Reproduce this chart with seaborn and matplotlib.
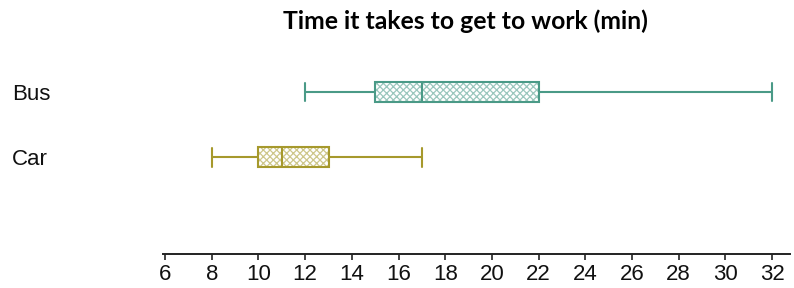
import numpy as np
import pandas as pd
import matplotlib
matplotlib.use("Agg")
import matplotlib.pyplot as plt
import matplotlib.colors as mcolors
import seaborn as sns

# ---- data ----
modes = ["Bus", "Car"]
bus_times = [12, 15, 17, 22, 32]
car_times = [8, 10, 11, 13, 17]
colors = ["#4a9a87", "#a6992c"]
x_ticks = list(range(6, 33, 2))
title = "Time it takes to get to work (min)"

df = pd.DataFrame({
    "mode": ["Bus"] * len(bus_times) + ["Car"] * len(car_times),
    "minutes": bus_times + car_times,
})

sns.set_style("white")
plt.rcParams["font.family"] = ["Liberation Sans", "DejaVu Sans"]
plt.rcParams["hatch.linewidth"] = 0.9

W, H = 794, 288
fig = plt.figure(figsize=(W / 100, H / 100), dpi=100)
left_px, right_px, top_px, bot_px = 163, 790, 50, 254
ax = fig.add_axes([left_px / W, (H - bot_px) / H,
                   (right_px - left_px) / W, (bot_px - top_px) / H])

sns.boxplot(data=df, x="minutes", y="mode", hue="mode", order=modes,
            hue_order=modes, palette=colors, dodge=False, width=0.31,
            whis=np.inf, linewidth=1.5, capwidths=0.29, legend=False, ax=ax)

def lighten(c, f):
    r, g, b = mcolors.to_rgb(c)
    return (r + (1 - r) * f, g + (1 - g) * f, b + (1 - b) * f, 1.0)

for cont, col in zip(ax.containers, colors):
    for b in cont.boxes:
        b.set_facecolor("white")
        b.set_edgecolor(col)
        b.set_hatch("xxxxx")
        b.set_linewidth(1.5)
        b._hatch_color = lighten(col, 0.45)
    for group in (cont.whiskers, cont.caps, cont.medians):
        for ln in group:
            ln.set_color(col)
            ln.set_linewidth(1.5)

ax.set_xlim(5.91, 32.77)
ax.set_ylim(2.49, -0.646)
ax.set_xticks(x_ticks)
ax.set_xticklabels([str(t) for t in x_ticks], fontsize=16, color="#111111")
ax.set_xlabel("")
ax.set_ylabel("")
for s in ["top", "right", "left"]:
    ax.spines[s].set_visible(False)
ax.spines["bottom"].set_color("#222222")
ax.spines["bottom"].set_linewidth(1.4)
ax.tick_params(axis="x", direction="out", length=4, width=1.2,
               color="#222222", pad=3, bottom=True)
ax.tick_params(axis="y", length=0, pad=(left_px - 12) * 0.72)
for lab in ax.get_yticklabels():
    lab.set_ha("left")
    lab.set_fontsize(16)
    lab.set_color("#111111")

fig.text(465 / W, 1 - 21 / H, title, ha="center", va="center", color="black",
         fontsize=17.8, fontweight="bold", family=["Lato", "DejaVu Sans"])

fig.savefig("out.png", dpi=100, facecolor="white")
